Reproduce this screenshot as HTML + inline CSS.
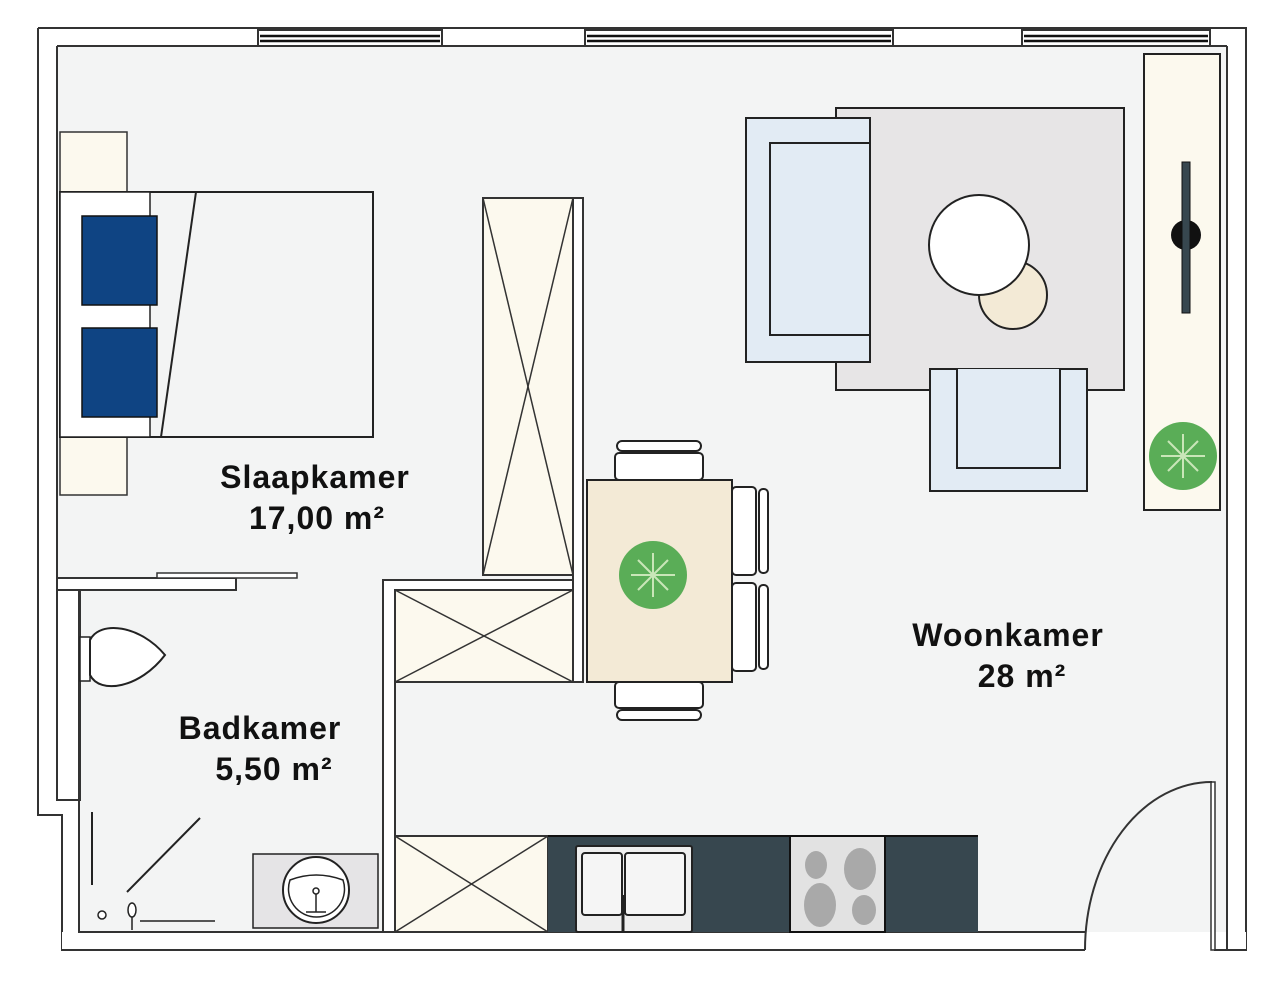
<!DOCTYPE html>
<html><head><meta charset="utf-8"><style>
html,body{margin:0;padding:0;background:#fff;width:1280px;height:983px;overflow:hidden}
text{font-family:"Liberation Sans",Arial,sans-serif;font-weight:bold;font-size:32px;letter-spacing:1px;fill:#111}
</style></head><body>
<svg width="1280" height="983" viewBox="0 0 1280 983" xmlns="http://www.w3.org/2000/svg">
<rect x="57" y="46" width="1170" height="886" fill="#f3f4f4"/>
<rect x="38" y="28" width="1208" height="18" fill="#fff"/>
<rect x="38" y="28" width="19" height="787" fill="#fff"/>
<rect x="38" y="800" width="40" height="150" fill="#fff"/>
<rect x="1227" y="28" width="19" height="922" fill="#fff"/>
<path d="M38,28 H1246 V950 H1214" fill="none" stroke="#333" stroke-width="2"/>
<path d="M38,28 V815 H62 V950 H1085" fill="none" stroke="#333" stroke-width="2"/>
<line x1="57" y1="46" x2="57" y2="578" stroke="#333" stroke-width="2"/>
<line x1="57" y1="46" x2="258" y2="46" stroke="#333" stroke-width="2"/>
<line x1="442" y1="46" x2="585" y2="46" stroke="#333" stroke-width="2"/>
<line x1="893" y1="46" x2="1022" y2="46" stroke="#333" stroke-width="2"/>
<line x1="1210" y1="46" x2="1227" y2="46" stroke="#333" stroke-width="2"/>
<line x1="1227" y1="46" x2="1227" y2="950" stroke="#333" stroke-width="2"/>
<rect x="62" y="932" width="1023" height="18" fill="#fff"/>
<line x1="62" y1="950" x2="1085" y2="950" stroke="#333" stroke-width="2"/>
<line x1="78" y1="932" x2="383" y2="932" stroke="#333" stroke-width="2"/>
<line x1="395" y1="932" x2="1085" y2="932" stroke="#333" stroke-width="2"/>
<rect x="1214" y="932" width="32" height="18" fill="#fff"/>
<line x1="1227" y1="932" x2="1227" y2="950" stroke="#333" stroke-width="2"/>
<line x1="1214" y1="950" x2="1246" y2="950" stroke="#333" stroke-width="2"/>
<rect x="1211" y="782" width="4" height="168" fill="#fff" stroke="#333" stroke-width="1.5"/>
<path d="M1085,950 A127,168 0 0 1 1212,782" fill="none" stroke="#333" stroke-width="2"/>
<g fill="#fff" stroke="#333" stroke-width="2">
<rect x="258" y="30" width="184" height="16"/><rect x="585" y="30" width="308" height="16"/><rect x="1022" y="30" width="188" height="16"/>
</g>
<g stroke="#111" stroke-width="2.5">
<line x1="260" y1="36" x2="440" y2="36"/><line x1="260" y1="41" x2="440" y2="41"/>
<line x1="587" y1="36" x2="891" y2="36"/><line x1="587" y1="41" x2="891" y2="41"/>
<line x1="1024" y1="36" x2="1208" y2="36"/><line x1="1024" y1="41" x2="1208" y2="41"/>
</g>
<rect x="57" y="578" width="179" height="12" fill="#fff" stroke="#333" stroke-width="2"/>
<rect x="157" y="573" width="140" height="5" fill="#fff" stroke="#333" stroke-width="1.5"/>
<rect x="57" y="590" width="23" height="210" fill="#fff" stroke="#333" stroke-width="2"/>
<line x1="79" y1="590" x2="79" y2="932" stroke="#333" stroke-width="2"/>
<path d="M383,932 V580 H583 V590 H395 V932 Z" fill="#fff" stroke="#333" stroke-width="2"/>
<rect x="573" y="198" width="10" height="484" fill="#fff" stroke="#333" stroke-width="2"/>
<g fill="#fcf9ee" stroke="#333" stroke-width="2">
<rect x="483" y="198" width="90" height="377"/>
<rect x="395" y="590" width="178" height="92"/>
<rect x="395" y="836" width="153" height="96"/>
</g>
<g stroke="#333" stroke-width="1.5">
<line x1="483" y1="198" x2="573" y2="575"/><line x1="573" y1="198" x2="483" y2="575"/>
<line x1="395" y1="590" x2="573" y2="682"/><line x1="573" y1="590" x2="395" y2="682"/>
<line x1="395" y1="836" x2="548" y2="932"/><line x1="548" y1="836" x2="395" y2="932"/>
</g>
<rect x="548" y="836" width="430" height="96" fill="#37474f"/>
<line x1="548" y1="836" x2="978" y2="836" stroke="#111" stroke-width="2"/>
<rect x="576" y="846" width="116" height="86" fill="#eee" stroke="#222" stroke-width="2" rx="2"/>
<rect x="582" y="853" width="40" height="62" fill="#f5f5f5" stroke="#222" stroke-width="2" rx="3"/>
<rect x="625" y="853" width="60" height="62" fill="#f5f5f5" stroke="#222" stroke-width="2" rx="3"/>
<line x1="623" y1="895" x2="623" y2="932" stroke="#222" stroke-width="3"/>
<rect x="790" y="836" width="95" height="96" fill="#e2e2e2" stroke="#111" stroke-width="2"/>
<g fill="#a9a9a9"><ellipse cx="816" cy="865" rx="11" ry="14"/><ellipse cx="860" cy="869" rx="16" ry="21"/><ellipse cx="820" cy="905" rx="16" ry="22"/><ellipse cx="864" cy="910" rx="12" ry="15"/></g>
<g fill="#fff" stroke="#222" stroke-width="2">
<rect x="615" y="453" width="88" height="27" rx="4"/><rect x="615" y="682" width="88" height="26" rx="4"/>
<rect x="732" y="487" width="24" height="88" rx="4"/><rect x="732" y="583" width="24" height="88" rx="4"/>
<rect x="617" y="441" width="84" height="10" rx="5"/><rect x="617" y="710" width="84" height="10" rx="5"/>
<rect x="759" y="489" width="9" height="84" rx="4"/><rect x="759" y="585" width="9" height="84" rx="4"/>
</g>
<rect x="587" y="480" width="145" height="202" fill="#f3ead6" stroke="#222" stroke-width="2"/>
<circle cx="653" cy="575" r="34" fill="#5aad57"/>
<g stroke="#c9e6b8" stroke-width="2"><line x1="631" y1="575" x2="675" y2="575"/><line x1="653" y1="553" x2="653" y2="597"/><line x1="638" y1="560" x2="668" y2="590"/><line x1="668" y1="560" x2="638" y2="590"/></g>
<rect x="836" y="108" width="288" height="282" fill="#e7e5e6" stroke="#222" stroke-width="2"/>
<rect x="746" y="118" width="124" height="244" fill="#e2ebf4" stroke="#222" stroke-width="2"/>
<rect x="770" y="143" width="100" height="192" fill="#e2ebf4" stroke="#222" stroke-width="2"/>
<rect x="930" y="369" width="157" height="122" fill="#e2ebf4" stroke="#222" stroke-width="2"/>
<path d="M957,369 V468 H1060 V369" fill="#e2ebf4" stroke="#222" stroke-width="2"/>
<circle cx="1013" cy="295" r="34" fill="#f3ead6" stroke="#222" stroke-width="2"/>
<circle cx="979" cy="245" r="50" fill="#fff" stroke="#222" stroke-width="2"/>
<rect x="1144" y="54" width="76" height="456" fill="#fcf9ee" stroke="#222" stroke-width="2"/>
<circle cx="1186" cy="235" r="15" fill="#111"/>
<rect x="1182" y="162" width="8" height="151" fill="#37474f" stroke="#111" stroke-width="1"/>
<circle cx="1183" cy="456" r="34" fill="#5aad57"/>
<g stroke="#c9e6b8" stroke-width="2"><line x1="1161" y1="456" x2="1205" y2="456"/><line x1="1183" y1="434" x2="1183" y2="478"/><line x1="1168" y1="441" x2="1198" y2="471"/><line x1="1198" y1="441" x2="1168" y2="471"/></g>
<rect x="60" y="132" width="67" height="60" fill="#fcf9ee" stroke="#333" stroke-width="1.5"/>
<rect x="60" y="437" width="67" height="58" fill="#fcf9ee" stroke="#333" stroke-width="1.5"/>
<rect x="60" y="192" width="313" height="245" fill="#f3f4f4" stroke="#222" stroke-width="2"/>
<rect x="60" y="192" width="90" height="245" fill="#fff" stroke="#222" stroke-width="1.5"/>
<rect x="82" y="216" width="75" height="89" fill="#0f4483" stroke="#111" stroke-width="1.5"/>
<rect x="82" y="328" width="75" height="89" fill="#0f4483" stroke="#111" stroke-width="1.5"/>
<line x1="196" y1="192" x2="161" y2="437" stroke="#222" stroke-width="2"/>
<rect x="80" y="637" width="10" height="44" fill="#fff" stroke="#222" stroke-width="1.5"/>
<path d="M90,640 C100,620 140,625 165,655 C140,688 100,695 90,675 Z" fill="#fff" stroke="#222" stroke-width="2"/>
<line x1="92" y1="812" x2="92" y2="885" stroke="#222" stroke-width="2"/>
<line x1="200" y1="818" x2="127" y2="892" stroke="#222" stroke-width="2"/>
<circle cx="102" cy="915" r="4" fill="#fff" stroke="#222" stroke-width="1.5"/>
<ellipse cx="132" cy="910" rx="4" ry="7" fill="#fff" stroke="#222" stroke-width="1.5"/>
<line x1="132" y1="917" x2="132" y2="930" stroke="#222" stroke-width="1.5"/>
<line x1="140" y1="921" x2="215" y2="921" stroke="#222" stroke-width="1.5"/>
<rect x="253" y="854" width="125" height="74" fill="#e5e4e6" stroke="#222" stroke-width="1.5"/>
<circle cx="316" cy="890" r="33" fill="#fff" stroke="#222" stroke-width="2"/>
<path d="M290,880 A28,28 0 1 0 343,880 Q316,870 290,880 Z" fill="none" stroke="#222" stroke-width="1.5"/>
<circle cx="316" cy="891" r="3" fill="#fff" stroke="#222" stroke-width="1.5"/>
<line x1="316" y1="894" x2="316" y2="912" stroke="#222" stroke-width="1.5"/>
<line x1="306" y1="912" x2="326" y2="912" stroke="#222" stroke-width="1.5"/>
<text x="315" y="488" text-anchor="middle">Slaapkamer</text>
<text x="317" y="529" text-anchor="middle">17,00 m²</text>
<text x="1008" y="646" text-anchor="middle">Woonkamer</text>
<text x="1022" y="687" text-anchor="middle">28 m²</text>
<text x="260" y="739" text-anchor="middle">Badkamer</text>
<text x="274" y="780" text-anchor="middle">5,50 m²</text>
</svg>
</body></html>
